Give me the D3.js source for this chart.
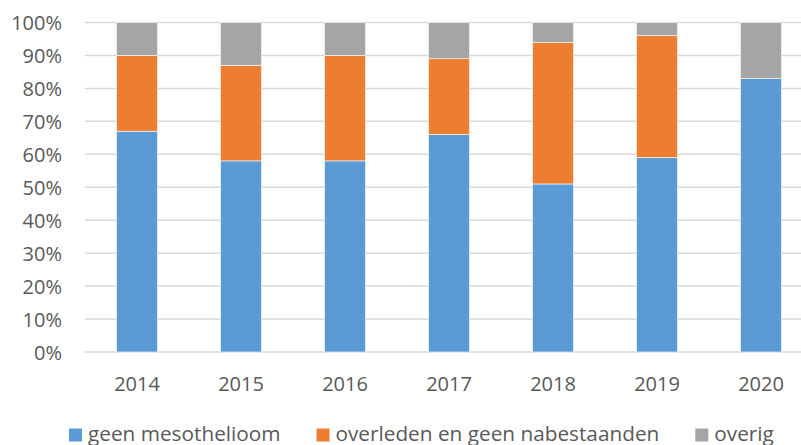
<!DOCTYPE html>
<html><head><meta charset="utf-8">
<script src="https://cdn.jsdelivr.net/npm/d3@7"></script>
<style>html,body{margin:0;padding:0;background:#fff;overflow:hidden}</style>
</head><body>
<svg id="c" width="801" height="445"></svg>
<script>
const years = ["2014","2015","2016","2017","2018","2019","2020"];
const seriesNames = ["geen mesothelioom","overleden en geen nabestaanden","overig"];
const geenMeso = [67,58,58,66,51,59,83];
const overleden = [23,29,32,23,43,37,0];
const overig = [10,13,10,11,6,4,17];
const colors = ["#5b9bd5","#ed7d31","#a5a5a5"];
const yTicks = [0,10,20,30,40,50,60,70,80,90,100];

const svg = d3.select("#c");
const font = "'Open Sans', sans-serif";
const left = 85, step = 104;
const x = d3.scaleBand().domain(years).range([left, left + step*years.length]).paddingInner(0.605).paddingOuter(0.3025);
const y = d3.scaleLinear().domain([0,100]).range([352,22.5]);

const rows = years.map((yr,i)=>({year:yr, a:geenMeso[i], b:overleden[i], c:overig[i]}));
const stack = d3.stack().keys(["a","b","c"])(rows);

// gridlines
svg.append("g").selectAll("line").data(yTicks).join("line")
  .attr("x1", left).attr("x2", 801)
  .attr("y1", d=>y(d)).attr("y2", d=>y(d))
  .attr("stroke", "#d9d9d9").attr("stroke-width", 1.5);

// bars
svg.append("g").selectAll("g").data(stack).join("g")
  .attr("fill", (d,i)=>colors[i])
  .selectAll("rect").data(d=>d).join("rect")
  .attr("x", d=>x(d.data.year))
  .attr("width", x.bandwidth())
  .attr("y", d=>y(d[1]))
  .attr("height", d=>Math.max(0, y(d[0]) - y(d[1])))
  .attr("stroke", d=> (d[1]-d[0])>0 ? "#ffffff" : "none").attr("stroke-width", 0.6);

// y axis labels
const yAxis = d3.axisLeft(y).tickValues(yTicks).tickFormat(d=>d+"%").tickSize(0).tickPadding(0);
const ya = svg.append("g").attr("transform","translate(62,0)").call(yAxis);
ya.select(".domain").remove();
ya.selectAll("text").attr("font-family", font).attr("font-size", 20).attr("fill", "#595959").attr("dy","0.35em");

// x axis labels
const xAxis = d3.axisBottom(x).tickSize(0).tickPadding(0);
const xa = svg.append("g").attr("transform","translate(0,391)").call(xAxis);
xa.select(".domain").remove();
xa.selectAll("text").attr("font-family", font).attr("font-size", 20).attr("fill", "#595959").attr("dy", 0).attr("y", 0);

// legend: fit total text width to the reference span
const lg = svg.append("g");
const texts = seriesNames.map(name => lg.append("text")
  .attr("font-family", font).attr("font-size", 20).attr("fill", "#595959").text(name));
const total = texts.reduce((s,t)=>s + t.node().getComputedTextLength(), 0);
const fs = Math.min(22, 20 * 576 / total);
texts.forEach(t => t.attr("font-size", fs));
let cx = 69;
texts.forEach((t,i)=>{
  lg.append("rect").attr("x", cx).attr("y", 428.5).attr("width", 13).attr("height", 13).attr("fill", colors[i]);
  t.attr("x", cx+19).attr("y", 440.5);
  cx = cx + 19 + t.node().getComputedTextLength() + 36;
});
</script>
</body></html>
